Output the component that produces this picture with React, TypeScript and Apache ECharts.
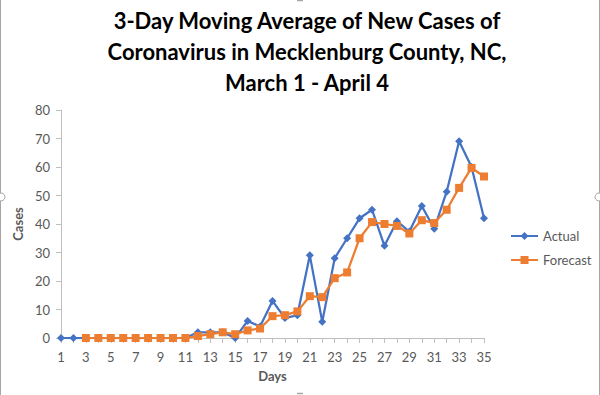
import React, { useEffect, useRef } from "react";
import * as echarts from "echarts";

const days = ["1","2","3","4","5","6","7","8","9","10","11","12","13","14","15","16","17","18","19","20","21","22","23","24","25","26","27","28","29","30","31","32","33","34","35"];
const actual = [0,0,0,0,0,0,0,0,0,0,0,2,2,2,0,6,4,13,7,8,29,5.67,28,35,42,45,32.33,41,37.33,46.33,38.33,51.33,69,60,42];
const forecast = [null,null,0,0,0,0,0,0,0,0,0,0.67,1.33,2,1.33,2.67,3.33,7.67,8,9.33,14.67,14.33,21,23,35,40.67,40,39.33,36.67,41.33,40.33,45,52.67,59.67,56.67];
const yTicks = { min: 0, max: 80, interval: 10 };
const titleText = "3-Day Moving Average of New Cases of\nCoronavirus in Mecklenburg County, NC,\nMarch 1 - April 4";

const FONT = "Lato";
const AXIS_GREY = "#bfbfbf";
const TEXT_GREY = "#595959";

export default function App() {
  const ref = useRef<HTMLDivElement>(null);
  useEffect(() => {
    if (!ref.current) return;
    const chart = echarts.init(ref.current, null, { renderer: "svg" });
    chart.setOption({
      animation: false,
      backgroundColor: "#ffffff",
      textStyle: { fontFamily: FONT },
      title: {
        text: titleText,
        left: 302,
        textAlign: "center",
        top: 0,
        textStyle: {
          fontFamily: FONT,
          fontSize: 22,
          fontWeight: "bold",
          color: "#000000",
          lineHeight: 31,
        },
      },
      legend: {
        orient: "vertical",
        left: 505,
        top: 224,
        itemWidth: 27,
        itemHeight: 10,
        itemGap: 10,
        textStyle: { fontFamily: FONT, fontSize: 13, color: TEXT_GREY, lineHeight: 14 },
        data: ["Actual", "Forecast"],
      },
      grid: { left: 61, right: 116, top: 110, bottom: 57, containLabel: false },
      xAxis: {
        type: "category",
        data: days,
        boundaryGap: false,
        name: "Days",
        nameLocation: "middle",
        nameGap: 31,
        nameTextStyle: { fontFamily: FONT, fontSize: 13, fontWeight: "bold", color: TEXT_GREY },
        axisLine: { show: true, lineStyle: { color: AXIS_GREY, width: 1 } },
        axisTick: { show: true, interval: 0, length: 5, lineStyle: { color: AXIS_GREY } },
        axisLabel: { interval: 1, margin: 12, fontFamily: FONT, fontSize: 13, color: TEXT_GREY },
        splitLine: { show: false },
      },
      yAxis: {
        type: "value",
        min: yTicks.min,
        max: yTicks.max,
        interval: yTicks.interval,
        name: "Cases",
        nameLocation: "middle",
        nameGap: 33,
        nameTextStyle: { fontFamily: FONT, fontSize: 13, fontWeight: "bold", color: TEXT_GREY },
        axisLine: { show: true, lineStyle: { color: AXIS_GREY, width: 1 } },
        axisTick: { show: true, length: 5, lineStyle: { color: AXIS_GREY } },
        axisLabel: { margin: 11, fontFamily: FONT, fontSize: 13, color: TEXT_GREY },
        splitLine: { show: false },
      },
      series: [
        {
          name: "Actual",
          type: "line",
          data: actual,
          symbol: "diamond",
          symbolSize: 8,
          showAllSymbol: true,
          lineStyle: { color: "#4472C4", width: 2.25 },
          itemStyle: { color: "#4472C4" },
        },
        {
          name: "Forecast",
          type: "line",
          data: forecast,
          symbol: "rect",
          symbolSize: 8,
          showAllSymbol: true,
          lineStyle: { color: "#ED7D31", width: 2.25 },
          itemStyle: { color: "#ED7D31" },
        },
      ],
      graphic: [
        { type: "line", shape: { x1: 0.5, y1: 0, x2: 0.5, y2: 395 }, style: { stroke: "#a6a6a6", lineWidth: 1 } },
        { type: "line", shape: { x1: 599.5, y1: 0, x2: 599.5, y2: 395 }, style: { stroke: "#a6a6a6", lineWidth: 1 } },
        { type: "circle", shape: { cx: 1, cy: 197, r: 4 }, style: { fill: "#ffffff", stroke: "#a6a6a6", lineWidth: 1 } },
        { type: "circle", shape: { cx: 599, cy: 197, r: 4 }, style: { fill: "#ffffff", stroke: "#a6a6a6", lineWidth: 1 } },
        { type: "line", shape: { x1: 297, y1: 0.5, x2: 303, y2: 0.5 }, style: { stroke: "#a6a6a6", lineWidth: 1.5 } },
        { type: "line", shape: { x1: 297, y1: 393.5, x2: 303, y2: 393.5 }, style: { stroke: "#a6a6a6", lineWidth: 1.5 } },
      ],
    });
    return () => chart.dispose();
  }, []);
  return (
    <div
      ref={ref}
      style={{ position: "absolute", left: 0, top: 0, width: 600, height: 395 }}
    />
  );
}
